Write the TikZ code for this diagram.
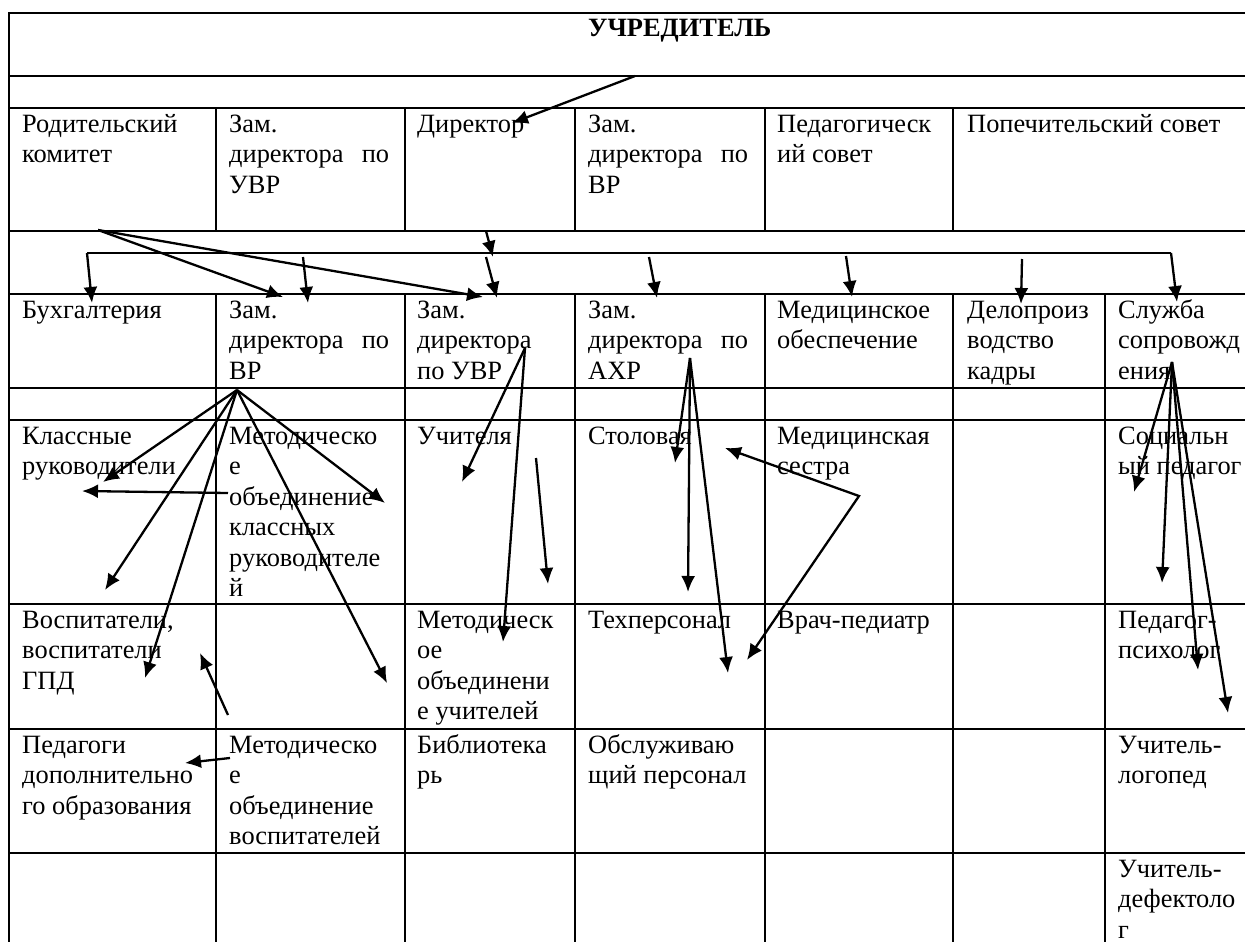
\documentclass[tikz,border=0pt]{standalone}
\usepackage{fontspec}
\setmainfont{Liberation Serif}
\usetikzlibrary{arrows.meta}
\newcommand\cellt[1]{\vtop{\halign{##\hfil\cr#1\crcr}}}
\newcommand\jst[2]{\hbox to 160pt{#1\hfill #2}}
\begin{document}
\begin{tikzpicture}[x=1pt,y=-1pt,
  grid/.style={line width=2.2pt,line cap=rect},
  bus/.style={line width=1.3pt},
  arr/.style={line width=2.3pt,-{Latex[length=16pt,width=14pt]}},
  darr/.style={line width=2.3pt,{Latex[length=16pt,width=14pt]}-{Latex[length=16pt,width=14pt]}},
  cell/.style={anchor=base west,inner sep=0pt,font=\fontsize{26.4}{30.5}\selectfont}]
\useasboundingbox (0,0) rectangle (1245,942);
\fill[white] (0,0) rectangle (1245,942);
\clip (0,0) rectangle (1245,942);
% table grid
\foreach \y in {13,76,108,231,294,388,420,604,729,853} \draw[grid] (9,\y) -- (1260,\y);
\draw[grid] (9,13) -- (9,960);
\foreach \x in {216,405,575,765,953} \draw[grid] (\x,108) -- (\x,231);
\foreach \x in {216,405,575,765,953,1105} \draw[grid] (\x,294) -- (\x,960);
% texts
\node[cell,font=\fontsize{26.4}{30.5}\selectfont\bfseries] (uchr) at (588,37) {УЧРЕДИТЕЛЬ};
\node[cell] (rodk) at (22,132) {\cellt{Родительский\cr комитет}};
\node[cell] (zuvr1) at (229,132) {\cellt{Зам.\cr\jst{директора}{по}\cr УВР}};
\node[cell] (dir) at (417,132) {Директор};
\node[cell] (zvr1) at (588,132) {\cellt{Зам.\cr\jst{директора}{по}\cr ВР}};
\node[cell] (pedsov) at (777,132) {\cellt{Педагогическ\cr ий совет}};
\node[cell] (popsov) at (967,132) {Попечительский совет};
\node[cell] (buh) at (22,318) {Бухгалтерия};
\node[cell] (zvr2) at (229,318) {\cellt{Зам.\cr\jst{директора}{по}\cr ВР}};
\node[cell] (zuvr2) at (417,318) {\cellt{Зам.\cr директора\cr по УВР}};
\node[cell] (zahr) at (588,318) {\cellt{Зам.\cr\jst{директора}{по}\cr АХР}};
\node[cell] (medob) at (777,318) {\cellt{Медицинское\cr обеспечение}};
\node[cell] (delo) at (967,318) {\cellt{Делопроиз\cr водство\cr кадры}};
\node[cell] (sluzh) at (1118,318) {\cellt{Служба\cr сопровожд\cr ения}};
\node[cell] (klruk) at (22,444) {\cellt{Классные\cr руководители}};
\node[cell] (mokr) at (229,444) {\cellt{Методическо\cr е\cr объединение\cr классных\cr руководителе\cr й}};
\node[cell] (uch) at (417,444) {Учителя};
\node[cell] (stol) at (588,444) {Столовая};
\node[cell] (medses) at (777,444) {\cellt{Медицинская\cr сестра}};
\node[cell] (socped) at (1118,444) {\cellt{Социальн\cr ый педагог}};
\node[cell] (vosp) at (22,628) {\cellt{Воспитатели,\cr воспитатели\cr ГПД}};
\node[cell] (mouch) at (417,628) {\cellt{Методическ\cr ое\cr объединени\cr е учителей}};
\node[cell] (tech) at (588,628) {Техперсонал};
\node[cell] (vrach) at (777,628) {Врач-педиатр};
\node[cell] (psych) at (1118,628) {\cellt{Педагог-\cr психолог}};
\node[cell] (peddo) at (22,753) {\cellt{Педагоги\cr дополнительно\cr го образования}};
\node[cell] (movosp) at (229,753) {\cellt{Методическо\cr е\cr объединение\cr воспитателей}};
\node[cell] (bibl) at (417,753) {\cellt{Библиотека\cr рь}};
\node[cell] (obsl) at (588,753) {\cellt{Обслуживаю\cr щий персонал}};
\node[cell] (logo) at (1118,753) {\cellt{Учитель-\cr логопед}};
\node[cell] (defe) at (1118,877) {\cellt{Учитель-\cr дефектоло\cr г}};
% connector points
\coordinate (uchrout) at (635,76); \coordinate (dirin) at (512,123);
\coordinate (busL) at (87,253); \coordinate (busR) at (1171,253);
\coordinate (buhin) at (92,303); \coordinate (sluzhin) at (1177,302);
\coordinate (b2s) at (303,257); \coordinate (b2e) at (308,303);
\coordinate (b3s) at (486,257); \coordinate (b3e) at (497,298);
\coordinate (b4s) at (649,257); \coordinate (b4e) at (657,298);
\coordinate (b5s) at (846,256); \coordinate (b5e) at (852,297);
\coordinate (b6s) at (1022,259); \coordinate (b6e) at (1021,304);
\coordinate (dirout) at (486,231); \coordinate (dirbus) at (493,257);
\coordinate (rodout) at (98,230); \coordinate (r1e) at (283,297); \coordinate (r2e) at (483,297);
\coordinate (vrout) at (237,390);
\coordinate (v1) at (103,482); \coordinate (v2) at (105,590); \coordinate (v3) at (145,678);
\coordinate (v4) at (385,503); \coordinate (v5) at (387,683);
\coordinate (k1s) at (228,493); \coordinate (k1e) at (82,491);
\coordinate (k2s) at (228,715); \coordinate (k2e) at (200,653);
\coordinate (k3s) at (230,758); \coordinate (k3e) at (185,763);
\coordinate (uvrout) at (525,348); \coordinate (u1) at (462,482); \coordinate (u2) at (503,642);
\coordinate (u3s) at (536,458); \coordinate (u3e) at (548,584);
\coordinate (ahrout) at (690,358); \coordinate (a1) at (675,463); \coordinate (a2) at (688,592); \coordinate (a3) at (728,673);
\coordinate (mv) at (859,496); \coordinate (m1) at (725,448); \coordinate (m2) at (747,660);
\coordinate (slout) at (1172,362); \coordinate (s1) at (1134,492); \coordinate (s2) at (1162,583);
\coordinate (s3) at (1198,670); \coordinate (s4) at (1228,713);
% connectors
\draw[arr] (uchrout) -- (dirin);
\draw[bus] (busL) -- (busR);
\draw[arr] (busL) -- (buhin);
\draw[arr] (busR) -- (sluzhin);
\draw[arr] (b2s) -- (b2e);
\draw[arr] (b3s) -- (b3e);
\draw[arr] (b4s) -- (b4e);
\draw[arr] (b5s) -- (b5e);
\draw[arr] (b6s) -- (b6e);
\draw[arr] (dirout) -- (dirbus);
\draw[arr] (rodout) -- (r1e);
\draw[arr] (rodout) -- (r2e);
\foreach \t in {v1,v2,v3,v4,v5} \draw[arr] (vrout) -- (\t);
\draw[arr] (k1s) -- (k1e);
\draw[arr] (k2s) -- (k2e);
\draw[arr] (k3s) -- (k3e);
\foreach \t in {u1,u2} \draw[arr] (uvrout) -- (\t);
\draw[arr] (u3s) -- (u3e);
\foreach \t in {a1,a2,a3} \draw[arr] (ahrout) -- (\t);
\draw[darr] (m1) -- (mv) -- (m2);
\foreach \t in {s1,s2,s3,s4} \draw[arr] (slout) -- (\t);
\end{tikzpicture}
\end{document}
